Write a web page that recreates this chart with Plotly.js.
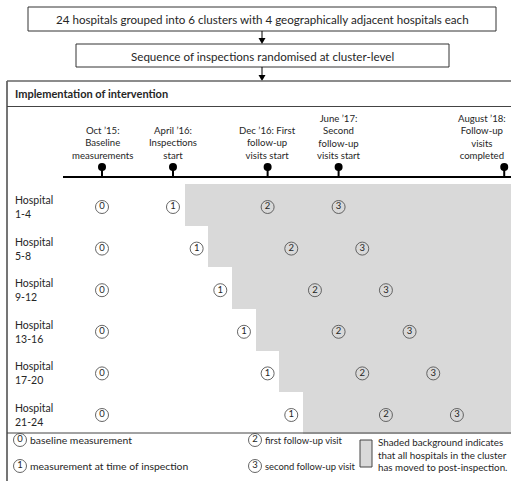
<!DOCTYPE html>
<html>
<head>
<meta charset="utf-8">
<script src="https://cdn.plot.ly/plotly-3.0.1.min.js"></script>
<style>html,body{margin:0;padding:0;background:#fff}#chart{width:511px;height:481px}</style>
</head>
<body>
<div id="chart"></div>
<script>
// ---- data ----
const flowSteps = ["24 hospitals grouped into 6 clusters with 4 geographically adjacent hospitals each",
                   "Sequence of inspections randomised at cluster-level"];
const panelTitle = "Implementation of intervention";
const milestoneMonths = [0, 6, 14, 20, 34];   // months since Oct '15
const milestoneLabels = ["Oct ’15:<br>Baseline<br>measurements",
                         "April ’16:<br>Inspections<br>start",
                         "Dec ’16: First<br>follow-up<br>visits start",
                         "June ’17:<br>Second<br>follow-up<br>visits start",
                         "August ’18:<br>Follow-up<br>visits<br>completed"];
const clusters = ["Hospital<br>1-4", "Hospital<br>5-8", "Hospital<br>9-12",
                  "Hospital<br>13-16", "Hospital<br>17-20", "Hospital<br>21-24"];
const baselineMonth   = [0, 0, 0, 0, 0, 0];
const inspectionMonth = [6, 8, 10, 12, 14, 16];
const followup1Month  = [14, 16, 18, 20, 22, 24];
const followup2Month  = [20, 22, 24, 26, 28, 30];
const shadeStartMonth = [7, 9, 11, 13, 15, 17];
const legendItems = [["0", "baseline measurement"], ["1", "measurement at time of inspection"],
                     ["2", "first follow-up visit"], ["3", "second follow-up visit"]];
const shadeNote = "Shaded background indicates<br>that all hospitals in the cluster<br>has moved to post-inspection.";

// ---- geometry ----
const W = 511, H = 481;
const X0PX = 102, PPM = 11.83;     // month 0 pixel, pixels per month
const ROW0 = 205, PITCH = 41.6;    // first row centre, row pitch
const xr = [-X0PX / PPM, (W - X0PX) / PPM];
const yr = [(H - ROW0) / PITCH, -ROW0 / PITCH];
const pxX = p => (p - X0PX) / PPM;
const pxY = p => (p - ROW0) / PITCH;
const px = p => p / W, py = p => 1 - p / H;
const FONT = "Lato, 'Open Sans', sans-serif";
const INK = "#262626";
const rows = clusters.map((_, i) => i);
const MARK_OFF = 2 / PITCH;   // marks sit slightly below the row centre
const markRows = rows.map(r => r + MARK_OFF);

const traces = [];
// shaded post-inspection background
traces.push({type: "bar", orientation: "h", y: rows, base: shadeStartMonth,
  x: shadeStartMonth.map(s => xr[1] + 1 - s), width: 1,
  marker: {color: "#d9d9d9", line: {width: 0}}, hoverinfo: "skip", showlegend: false});

function circ(xs, ys, digit) {
  return {type: "scatter", mode: "markers+text", x: xs, y: ys,
    text: xs.map(() => digit), textposition: "middle center",
    textfont: {family: FONT, size: 9.5, color: INK},
    marker: {symbol: "circle-open", size: 13, color: "#555", line: {width: 0.9, color: "#555"}},
    hoverinfo: "skip", showlegend: false, cliponaxis: false};
}
traces.push(circ(baselineMonth, markRows, "0"));
traces.push(circ(inspectionMonth, markRows, "1"));
traces.push(circ(followup1Month, markRows, "2"));
traces.push(circ(followup2Month, markRows, "3"));

// milestone pins
const TL = 177, PIN = 167;
traces.push({type: "scatter", mode: "markers", x: milestoneMonths, y: milestoneMonths.map(() => pxY(PIN)),
  marker: {size: 8, color: "#000"}, hoverinfo: "skip", showlegend: false, cliponaxis: false});

// legend circles
const legPos = [[20, 440], [20, 466], [255, 440], [255, 466]];
const legSize = [10.4, 10.4, 9.4, 9.4];
legendItems.forEach((it, k) => {
  traces.push(circ([pxX(legPos[k][0])], [pxY(legPos[k][1])], it[0]));
});

const shapes = [];
const line = (x0, y0, x1, y1, w, c) => ({type: "line", xref: "paper", yref: "paper",
  x0: px(x0), y0: py(y0), x1: px(x1), y1: py(y1), line: {width: w, color: c}});
// flow boxes
shapes.push({type: "rect", xref: "paper", yref: "paper", x0: px(28), x1: px(496), y0: py(7), y1: py(31),
  line: {width: 1, color: "#333"}});
shapes.push({type: "rect", xref: "paper", yref: "paper", x0: px(76), x1: px(449), y0: py(44), y1: py(67),
  line: {width: 1, color: "#333"}});
shapes.push(line(262, 31, 262, 40, 1, "#000"));
shapes.push(line(262, 67, 262, 77, 1, "#000"));
[[44], [81]].forEach(([tip]) => {
  shapes.push({type: "path", xref: "paper", yref: "paper",
    path: `M ${px(258.5)} ${py(tip - 6)} L ${px(265.5)} ${py(tip - 6)} L ${px(262)} ${py(tip)} Z`,
    fillcolor: "#000", line: {width: 0}});
});
// main panel
shapes.push(line(7, 81, 511, 81, 1.6, "#666"));
shapes.push(line(7, 81, 7, 481, 1.8, "#666"));
shapes.push(line(7, 106.5, 511, 106.5, 1, "#444"));
shapes.push(line(7, 433, 511, 433, 1, "#444"));
// timeline
shapes.push(line(63, TL, 511, TL, 2.2, "#000"));
milestoneMonths.forEach(m => {
  shapes.push({type: "line", xref: "x", yref: "y", x0: m, x1: m, y0: pxY(PIN), y1: pxY(TL),
    line: {width: 2, color: "#000"}});
});
// legend shaded box
shapes.push({type: "rect", xref: "paper", yref: "paper", x0: px(360), x1: px(372), y0: py(440), y1: py(467),
  fillcolor: "#d9d9d9", line: {width: 1, color: "#444"}});

const ann = [];
const txt = (x, y, t, o) => Object.assign({xref: "paper", yref: "paper", x: px(x), y: py(y), text: t,
  showarrow: false, font: {family: FONT, size: 11.6, color: INK}, xanchor: "center", yanchor: "middle"}, o || {});
ann.push(txt(262, 19.5, flowSteps[0]));
ann.push(txt(262, 56, flowSteps[1]));
ann.push(txt(13, 93.5, "<b>" + panelTitle + "</b>", {xanchor: "left", font: {family: FONT, size: 11, color: INK}}));
milestoneMonths.forEach((m, k) => {
  const last = k === milestoneMonths.length - 1;
  ann.push({xref: "x", yref: "paper", x: m, y: py(163), yanchor: "bottom",
    xanchor: last ? "right" : "center", xshift: last ? 4 : 0, align: "center",
    text: milestoneLabels[k], showarrow: false, font: {family: FONT, size: 9.6, color: INK}});
});
clusters.forEach((c, i) => {
  ann.push({xref: "paper", yref: "y", x: px(13), y: markRows[i], xanchor: "left", yanchor: "middle", align: "left",
    text: c, showarrow: false, font: {family: FONT, size: 10.5, color: INK}});
});
legendItems.forEach((it, k) => {
  ann.push(txt(legPos[k][0] + 7.5, legPos[k][1], it[1], {xanchor: "left", font: {family: FONT, size: legSize[k], color: INK}}));
});
ann.push(txt(376, 454.5, shadeNote, {xanchor: "left", align: "left", font: {family: FONT, size: 9.8, color: INK}}));

const layout = {width: W, height: H, margin: {l: 0, r: 0, t: 0, b: 0}, paper_bgcolor: "#fff", plot_bgcolor: "#fff",
  xaxis: {range: xr, visible: false, fixedrange: true},
  yaxis: {range: yr, visible: false, fixedrange: true},
  bargap: 0, shapes: shapes, annotations: ann, showlegend: false};
Plotly.newPlot("chart", traces, layout, {displayModeBar: false, staticPlot: true});
</script>
</body>
</html>
